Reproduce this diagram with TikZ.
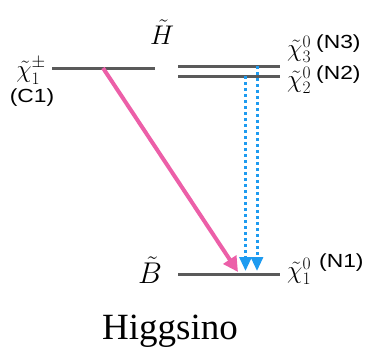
\RequirePackage{fix-cm}
\documentclass[tikz,border=0pt]{standalone}
\usepackage{amsmath,amssymb}
\usepackage{fontspec}
\setmainfont{Liberation Serif}
\newfontfamily\tagfont{Liberation Sans}
\usepackage{tikz}
\usetikzlibrary{arrows.meta}
\definecolor{lvlgray}{HTML}{5A5A5A}
\definecolor{rose}{HTML}{EC5FA8}
\definecolor{sky}{HTML}{1E9BF0}
\newcommand{\wtag}[1]{\scalebox{1.2}[1]{#1}}
\tikzset{lvl/.style={lvlgray,line width=3pt},
  tag/.style={font=\fontsize{19}{21}\selectfont\tagfont,inner sep=0pt},
  sym/.style={font=\fontsize{25}{27}\selectfont,inner sep=0pt},
  pinkdecay/.style={rose,line width=4pt,-{Triangle[length=15pt,width=15pt]}},
  bluedecay/.style={sky,line width=3pt,dash pattern=on 3pt off 3pt,-{Triangle[length=14pt,width=12pt]}}}

\begin{document}
\begin{tikzpicture}[x=1pt,y=-1pt]
\useasboundingbox (0,0) rectangle (366,346);
% levels
\coordinate (c1a) at (52,68); \coordinate (c1b) at (155,68);
\coordinate (n3a) at (178,66); \coordinate (n3b) at (280,66);
\coordinate (n2a) at (178,76); \coordinate (n2b) at (280,76);
\coordinate (n1a) at (178,274); \coordinate (n1b) at (280,274);
\draw[lvl] (c1a) -- (c1b);
\draw[lvl] (n3a) -- (n3b);
\draw[lvl] (n2a) -- (n2b);
\draw[lvl] (n1a) -- (n1b);
% decays
\coordinate (c1src) at (103,68); \coordinate (c1dst) at (238,272);
\coordinate (n2src) at (245.5,76); \coordinate (n2dst) at (245.5,271);
\coordinate (n3src) at (257,66); \coordinate (n3dst) at (257,271);
\draw[pinkdecay] (c1src) -- (c1dst);
\draw[bluedecay] (n2src) -- (n2dst);
\draw[bluedecay] (n3src) -- (n3dst);
% labels
\node[font=\fontsize{27}{29}\selectfont,inner sep=0pt] (hsym) at (162,32) {$\tilde H$};
\node[font=\fontsize{30}{32}\selectfont,inner sep=0pt] (bsym) at (150,270) {$\tilde B$};
\node[sym,anchor=east] (c1sym) at (46,71) {$\tilde\chi_1^{\pm}$};
\node[tag] (c1tag) at (32,98) {\wtag{(C1)}};
\node[sym,anchor=west] (n3sym) at (287,49) {$\tilde\chi_3^0$};
\node[tag,anchor=west] (n3tag) at (316,44) {\wtag{(N3)}};
\node[sym,anchor=west] (n2sym) at (287,80) {$\tilde\chi_2^0$};
\node[tag,anchor=west] (n2tag) at (316,75) {\wtag{(N2)}};
\node[sym,anchor=west] (n1sym) at (287,271) {$\tilde\chi_1^0$};
\node[tag,anchor=west] (n1tag) at (319,263) {\wtag{(N1)}};
\node[font=\fontsize{37}{40}\selectfont,inner sep=0pt,anchor=base] (title) at (170,339) {Higgsino};
\end{tikzpicture}
\end{document}
